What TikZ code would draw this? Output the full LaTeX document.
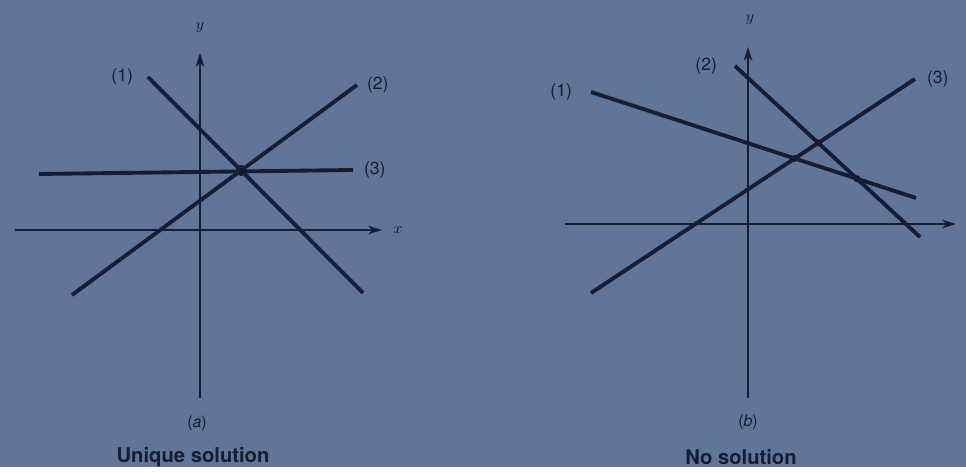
\documentclass[tikz,border=0pt]{standalone}
\usepackage{fontspec}
\setmainfont{TeX Gyre Heros}
\usepackage{tikz}
\usetikzlibrary{arrows.meta}

\definecolor{pagebg}{RGB}{97,117,152}
\definecolor{ink}{RGB}{22,28,52}

\begin{document}
\begin{tikzpicture}[
    eqline/.style={line width=2.2pt, ink},
    axisline/.style={line width=1.1pt, ink, -{Stealth[length=8pt, width=5pt]}},
    eqlabel/.style={ink, inner sep=1pt, font=\fontsize{10}{11}\selectfont},
    axislabel/.style={ink, font=\small},
    caption/.style={ink, font=\fontsize{11.5}{13}\selectfont\bfseries},
    crossdot/.style={fill=ink, draw=ink, circle, inner sep=0pt, minimum size=#1}
  ]
  \fill[pagebg] (-4,-4.74) rectangle (15.32,4.6);

  % (a) unique solution
  \coordinate (aYb) at (0,-3.36);
  \coordinate (aYt) at (0,3.54);
  \coordinate (aXl) at (-3.7,0);
  \coordinate (aXr) at (3.64,0);
  \draw[axisline] (aYb) -- (aYt);
  \draw[axisline] (aXl) -- (aXr);
  \node[axislabel] (aylab) at (0,4.04) {$y$};
  \node[axislabel] (axlab) at (3.96,0) {$x$};

  \coordinate (a1s) at (-1.04,3.06);
  \coordinate (a1e) at (3.26,-1.26);
  \coordinate (a2s) at (-2.56,-1.3);
  \coordinate (a2e) at (3.14,2.9);
  \coordinate (a3s) at (-3.22,1.12);
  \coordinate (a3e) at (3.06,1.2);
  \draw[eqline] (a1s) -- (a1e);
  \draw[eqline] (a2s) -- (a2e);
  \draw[eqline] (a3s) -- (a3e);
  \node[eqlabel, left=0.26cm] (a1lab) at (a1s) {(1)};
  \node[eqlabel, right=0.16cm] (a2lab) at (a2e) {(2)};
  \node[eqlabel, right=0.18cm] (a3lab) at (a3e) {(3)};
  \node[crossdot=6pt] (aP) at (intersection of a1s--a1e and a2s--a2e) {};

  \node[ink, font=\small] (alab) at (-0.06,-3.86) {(\textit{a})};
  \node[caption] (acap) at (-0.14,-4.54) {Unique solution};

  % (b) no solution
  \begin{scope}[xshift=10.96cm, yshift=0.12cm]
    \coordinate (bYb) at (0,-3.48);
    \coordinate (bYt) at (0,3.54);
    \coordinate (bXl) at (-3.66,0);
    \coordinate (bXr) at (4.16,0);
    \draw[axisline] (bYb) -- (bYt);
    \draw[axisline] (bXl) -- (bXr);
    \node[axislabel] (bylab) at (0.04,4.08) {$y$};

    \coordinate (b1s) at (-3.14,2.64);
    \coordinate (b1e) at (3.36,0.52);
    \coordinate (b2s) at (-0.26,3.16);
    \coordinate (b2e) at (3.44,-0.26);
    \coordinate (b3s) at (-3.14,-1.38);
    \coordinate (b3e) at (3.34,2.9);
    \draw[eqline] (b1s) -- (b1e);
    \draw[eqline] (b2s) -- (b2e);
    \draw[eqline] (b3s) -- (b3e);
    \node[eqlabel, left=0.34cm] (b1lab) at (b1s) {(1)};
    \node[eqlabel, left=0.32cm] (b2lab) at (b2s) {(2)};
    \node[eqlabel, right=0.2cm] (b3lab) at (b3e) {(3)};
    \node[crossdot=3.5pt] (bP13) at (intersection of b1s--b1e and b3s--b3e) {};
    \node[crossdot=3.5pt] (bP23) at (intersection of b2s--b2e and b3s--b3e) {};
    \node[crossdot=3.5pt] (bP12) at (intersection of b1s--b1e and b2s--b2e) {};

    \node[ink, font=\small] (blab) at (0,-3.96) {(\textit{b})};
    \node[caption] (bcap) at (-0.14,-4.66) {No solution};
  \end{scope}
\end{tikzpicture}
\end{document}
